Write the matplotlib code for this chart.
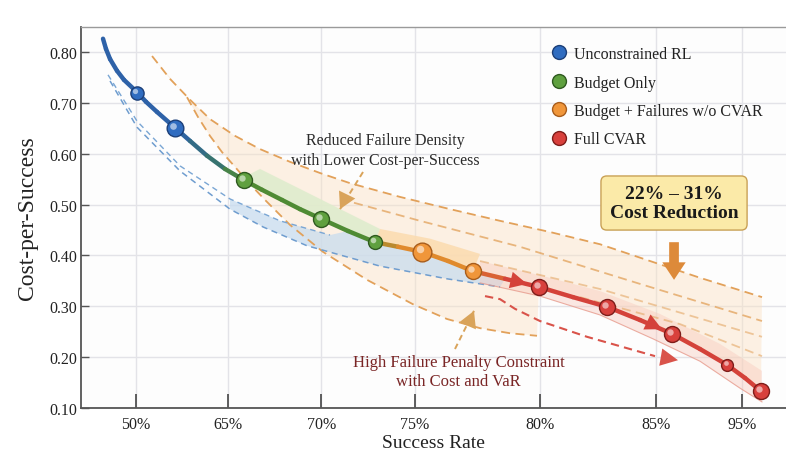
import numpy as np
import matplotlib.pyplot as plt
from matplotlib.collections import LineCollection
from matplotlib.colors import LinearSegmentedColormap
from matplotlib.lines import Line2D
from matplotlib.transforms import offset_copy

plt.rcParams['font.family'] = ['Liberation Serif', 'DejaVu Serif']

# x axis is not linear in success rate, so points live on a position scale
tick_pos = [0, 0.99, 2.0, 3.01, 4.36, 5.61, 6.54]
tick_labels = ['50%', '65%', '70%', '75%', '80%', '85%', '95%']
y_ticks = [0.10, 0.20, 0.30, 0.40, 0.50, 0.60, 0.70, 0.80]

# frontier curve
curve_x = [-0.356, -0.324, -0.280, -0.205, -0.129, 0.011, 0.108, 0.227, 0.421,
           0.583, 0.766, 0.960, 1.165, 1.359, 1.575, 1.769, 1.996, 2.287, 2.578,
           2.826, 3.085, 3.366, 3.635, 3.981, 4.347, 4.714, 5.081, 5.437, 5.782,
           6.084, 6.375, 6.570, 6.742]
curve_y = [0.826, 0.806, 0.786, 0.763, 0.745, 0.721, 0.702, 0.682, 0.651,
           0.625, 0.596, 0.570, 0.548, 0.529, 0.509, 0.491, 0.472, 0.448, 0.426,
           0.417, 0.407, 0.389, 0.369, 0.354, 0.338, 0.318, 0.299, 0.273, 0.246,
           0.216, 0.185, 0.159, 0.133]

# method points
rl_x = [0.01, 0.42]
rl_y = [0.720, 0.650]
budget_x = [1.17, 2.00, 2.58]
budget_y = [0.548, 0.472, 0.426]
fail_x = [3.09, 3.64]
fail_y = [0.407, 0.369]
cvar_x = [4.35, 5.08, 5.78, 6.38, 6.74]
cvar_y = [0.338, 0.299, 0.245, 0.185, 0.133]

# envelopes
env_top_x = [0.173, 0.367, 0.583, 0.798, 1.068, 1.338, 1.661, 1.985, 2.309, 2.848,
             3.387, 3.927, 4.466, 5.005, 5.545, 6.084, 6.753]
env_top_y = [0.792, 0.747, 0.706, 0.668, 0.635, 0.609, 0.584, 0.562, 0.542, 0.515,
             0.491, 0.468, 0.446, 0.422, 0.389, 0.356, 0.318]
env_2_x = [2.201, 3.064, 4.142, 5.437, 6.753]
env_2_y = [0.511, 0.468, 0.417, 0.344, 0.271]
env_3_x = [3.711, 5.005, 6.753]
env_3_y = [0.389, 0.334, 0.240]
env_4_x = [4.790, 5.868, 6.753]
env_4_y = [0.318, 0.265, 0.202]
env_low_x = [0.550, 0.669, 0.798, 0.928, 1.068, 1.230, 1.392, 1.661, 2.017, 2.492,
             2.988, 3.355, 3.711, 4.035, 4.326]
env_low_y = [0.711, 0.672, 0.635, 0.603, 0.574, 0.540, 0.509, 0.460, 0.407, 0.352,
             0.304, 0.275, 0.257, 0.247, 0.242]

blue_up_x = [-0.302, 0.011, 0.475, 1.014, 1.553, 2.093]
blue_up_y = [0.755, 0.664, 0.576, 0.511, 0.468, 0.440]
blue_low_x = [-0.280, 0.011, 0.475, 1.014, 1.370, 1.845, 2.632, 3.355, 3.927]
blue_low_y = [0.743, 0.652, 0.566, 0.491, 0.456, 0.419, 0.379, 0.354, 0.338]

green_up_x = [1.165, 1.338, 1.985, 2.632]
green_up_y = [0.554, 0.570, 0.511, 0.452]
orange_up_x = [2.632, 3.171, 3.711]
orange_up_y = [0.452, 0.433, 0.403]
red_up_x = [3.711, 4.358, 5.005, 5.652, 6.300, 6.753]
red_up_y = [0.389, 0.361, 0.330, 0.285, 0.226, 0.173]
red_low_x = [3.711, 4.358, 5.005, 5.577, 6.084, 6.516, 6.753]
red_low_y = [0.346, 0.320, 0.283, 0.236, 0.192, 0.139, 0.112]

var_x = [3.765, 3.927, 4.088, 4.358, 4.865, 5.599, 5.847]
var_y = [0.320, 0.314, 0.295, 0.271, 0.240, 0.202, 0.194]

note1_arrow_x = [2.449, 2.201]
note1_arrow_y = [0.564, 0.491]
note2_arrow_x = [3.441, 3.646]
note2_arrow_y = [0.216, 0.291]
cvar_arrows = [((4.035, 0.352), (4.218, 0.344)), ((5.491, 0.271), (5.674, 0.255))]
box_xy = (5.804, 0.503)
box_arrow = ((5.804, 0.426), (5.804, 0.352))

fig = plt.figure(figsize=(7.86, 4.52), dpi=100, facecolor='white')
ax = fig.add_axes([0.1031, 0.0951, 0.8969, 0.8429])
ax.set_facecolor('#fdfdfd')
ax.set_xlim(-0.593, 7.012)
ax.set_ylim(0.10, 0.849)

cx = np.array(curve_x)
cy = np.array(curve_y)


def band(ux, uy, lo, hi, **kw):
    m = (cx >= lo) & (cx <= hi)
    ax.fill(np.r_[ux, cx[m][::-1]], np.r_[uy, cy[m][::-1]], lw=0, **kw)


# shaded regions
m = cx >= 4.34
ax.fill(np.r_[env_top_x, cx[m][::-1], env_low_x[::-1]],
        np.r_[env_top_y, cy[m][::-1], env_low_y[::-1]],
        color='#fbe2c4', alpha=0.45, lw=0, zorder=1)
m = (cx >= 2.2) & (cx <= 3.99)
ax.fill(np.r_[blue_low_x[3:], cx[m][::-1], blue_up_x[3:][::-1]],
        np.r_[blue_low_y[3:], cy[m][::-1], blue_up_y[3:][::-1]],
        color='#c8dcef', alpha=0.75, lw=0, zorder=1.5)
ax.fill(np.r_[red_up_x, red_low_x[::-1]], np.r_[red_up_y, red_low_y[::-1]],
        color='#f7c7ba', alpha=0.4, lw=0, zorder=1.6)
band(green_up_x, green_up_y, 1.16, 2.6, color='#dfeccd', alpha=0.9, zorder=1.7)
band(orange_up_x, orange_up_y, 2.57, 3.72, color='#fbdcb2', alpha=0.9, zorder=1.7)

# dashed envelopes
dash_kw = dict(color='#e2a15a', lw=1.3, dashes=(5, 3), zorder=2)
ax.plot(env_top_x, env_top_y, **dash_kw)
ax.plot(env_low_x, env_low_y, **dash_kw)
ax.plot(env_2_x, env_2_y, alpha=0.75, **dash_kw)
ax.plot(env_3_x, env_3_y, alpha=0.55, **dash_kw)
ax.plot(env_4_x, env_4_y, alpha=0.55, **dash_kw)
ax.plot(blue_up_x, blue_up_y, color='#7aa6d4', lw=1.0, dashes=(4, 3), zorder=2)
ax.plot(blue_low_x, blue_low_y, color='#6f9dcf', lw=1.1, dashes=(4, 3), zorder=2)
ax.plot(red_low_x, red_low_y, color='#e79a8c', lw=0.8, alpha=0.8, zorder=2)

# VaR dashed arrow
ax.plot(var_x[:-1], var_y[:-1], color='#d9534a', lw=1.5, dashes=(4, 2.5), zorder=3)
ax.annotate('', xy=(var_x[-1], var_y[-1]), xytext=(var_x[-2], var_y[-2]),
            arrowprops=dict(arrowstyle='-|>,head_length=0.9,head_width=0.45',
                            color='#d9534a', lw=0, shrinkA=0, shrinkB=0,
                            mutation_scale=14), zorder=3)

# frontier line with colour fading between methods
pts = np.column_stack([cx, cy])
segs = np.stack([pts[:-1], pts[1:]], axis=1)
mid = (pts[:-1, 0] + pts[1:, 0]) / 2
x0, x1 = cx[0], cx[-1]
stops = [(x0, '#2e62a8'), (0.42, '#2e62a8'), (0.85, '#37736f'), (1.17, '#4f8b34'),
         (2.58, '#4f8b34'), (2.75, '#e08a2c'), (3.65, '#e08a2c'), (3.95, '#d4423a'),
         (x1, '#d4423a')]
cmap = LinearSegmentedColormap.from_list('frontier', [((p - x0) / (x1 - x0), c) for p, c in stops])
lc = LineCollection(segs, colors=cmap((mid - x0) / (x1 - x0)), linewidths=3.2,
                    capstyle='round', joinstyle='round', zorder=5)
ax.add_collection(lc)

for tail, tip in cvar_arrows:
    ax.annotate('', xy=tip, xytext=tail,
                arrowprops=dict(arrowstyle='-|>,head_length=0.8,head_width=0.4',
                                color='#d4423a', lw=0, shrinkA=0, shrinkB=0,
                                mutation_scale=15), zorder=6)

# glossy markers
methods = [
    ('Unconstrained RL', rl_x, rl_y, '#2f6cc0', '#1c3f78', [9.5, 12]),
    ('Budget Only', budget_x, budget_y, '#5fa03f', '#2f5a20', [11.5, 11.5, 10]),
    ('Budget + Failures w/o CVAR', fail_x, fail_y, '#f0963a', '#a85d1c', [13.5, 11.5]),
    ('Full CVAR', cvar_x, cvar_y, '#d8403c', '#7e1d1a', [11.5, 11.5, 11.5, 8.5, 11.5]),
]
handles = []
for name, xs, ys, face, edge, sizes in methods:
    for x, y, ms in zip(xs, ys, sizes):
        ax.plot(x, y, 'o', ms=ms, mfc=face, mec=edge, mew=1.0, zorder=7)
        hl = offset_copy(ax.transData, fig=fig, x=-ms * 0.14, y=ms * 0.14, units='points')
        ax.plot(x, y, 'o', ms=ms * 0.4, mfc='white', mec='none', alpha=0.55,
                transform=hl, zorder=8)
    handles.append(Line2D([], [], ls='none', marker='o', ms=10, mfc=face, mec=edge,
                          mew=1.0, label=name))

ax.legend(handles=handles, loc='upper left', bbox_to_anchor=(0.667, 0.95),
          frameon=False, fontsize=11.5, handlelength=1.0, handletextpad=0.45,
          labelspacing=0.78, borderpad=0, borderaxespad=0, labelcolor='#222222')

# annotations
ax.text(2.686, 0.607, 'Reduced Failure Density\nwith Lower Cost-per-Success',
        ha='center', va='center', fontsize=11.5, color='#2b2b2b', linespacing=1.3,
        zorder=9)
ax.plot(note1_arrow_x, note1_arrow_y, color='#d9a35a', lw=1.4, dashes=(3, 2), zorder=4)
ax.annotate('', xy=(note1_arrow_x[-1], note1_arrow_y[-1]),
            xytext=(note1_arrow_x[-1] + 0.04, note1_arrow_y[-1] + 0.015),
            arrowprops=dict(arrowstyle='-|>,head_length=0.9,head_width=0.5',
                            color='#d9a35a', lw=0, shrinkA=0, shrinkB=0,
                            mutation_scale=13), zorder=4)

ax.text(3.479, 0.172, 'High Failure Penalty Constraint\nwith Cost and VaR',
        ha='center', va='center', fontsize=12, color='#7a2626', linespacing=1.25,
        zorder=9)
ax.plot(note2_arrow_x, note2_arrow_y, color='#d9a35a', lw=1.4, dashes=(3, 2), zorder=4)
ax.annotate('', xy=(note2_arrow_x[-1], note2_arrow_y[-1]),
            xytext=(note2_arrow_x[-1] - 0.035, note2_arrow_y[-1] - 0.015),
            arrowprops=dict(arrowstyle='-|>,head_length=0.9,head_width=0.5',
                            color='#d9a35a', lw=0, shrinkA=0, shrinkB=0,
                            mutation_scale=13), zorder=4)

ax.text(box_xy[0], box_xy[1], '22% \u2013 31%\nCost Reduction', ha='center', va='center',
        fontsize=14, fontweight='bold', color='#1a1a1a', linespacing=1.2, zorder=10,
        bbox=dict(boxstyle='round,pad=0.45,rounding_size=0.3', fc='#fbeaa8',
                  ec='#c9a156', lw=1.0))
ax.annotate('', xy=box_arrow[1], xytext=box_arrow[0],
            arrowprops=dict(arrowstyle='simple,head_length=0.9,head_width=1.2,tail_width=0.5',
                            color='#dd8a3a', lw=0, shrinkA=0, shrinkB=0,
                            mutation_scale=14), zorder=9)

# axes styling
ax.set_xticks(tick_pos)
ax.set_xticklabels(tick_labels)
ax.set_yticks(y_ticks)
ax.set_yticklabels([f'{v:.2f}' for v in y_ticks])
ax.tick_params(axis='x', direction='in', length=10, width=1.2, color='#444444',
               labelsize=11.5, pad=6, labelcolor='#222222')
ax.tick_params(axis='y', direction='in', length=6, width=1.0, color='#555555',
               labelsize=11.5, pad=3, labelcolor='#222222')
ax.grid(True, color='#e3e3e8', lw=1.0, zorder=0)
ax.set_axisbelow(True)
for side in ['left', 'bottom']:
    ax.spines[side].set_color('#555555')
    ax.spines[side].set_linewidth(1.3)
ax.spines['top'].set_color('#9a9a9a')
ax.spines['top'].set_linewidth(1.0)
ax.spines['right'].set_visible(False)

ax.set_xlabel('Success Rate', fontsize=14, color='#222222', labelpad=1)
ax.set_ylabel('Cost-per-Success', fontsize=17, color='#222222', labelpad=8)

fig.savefig('out.png', dpi=100, facecolor='white')
